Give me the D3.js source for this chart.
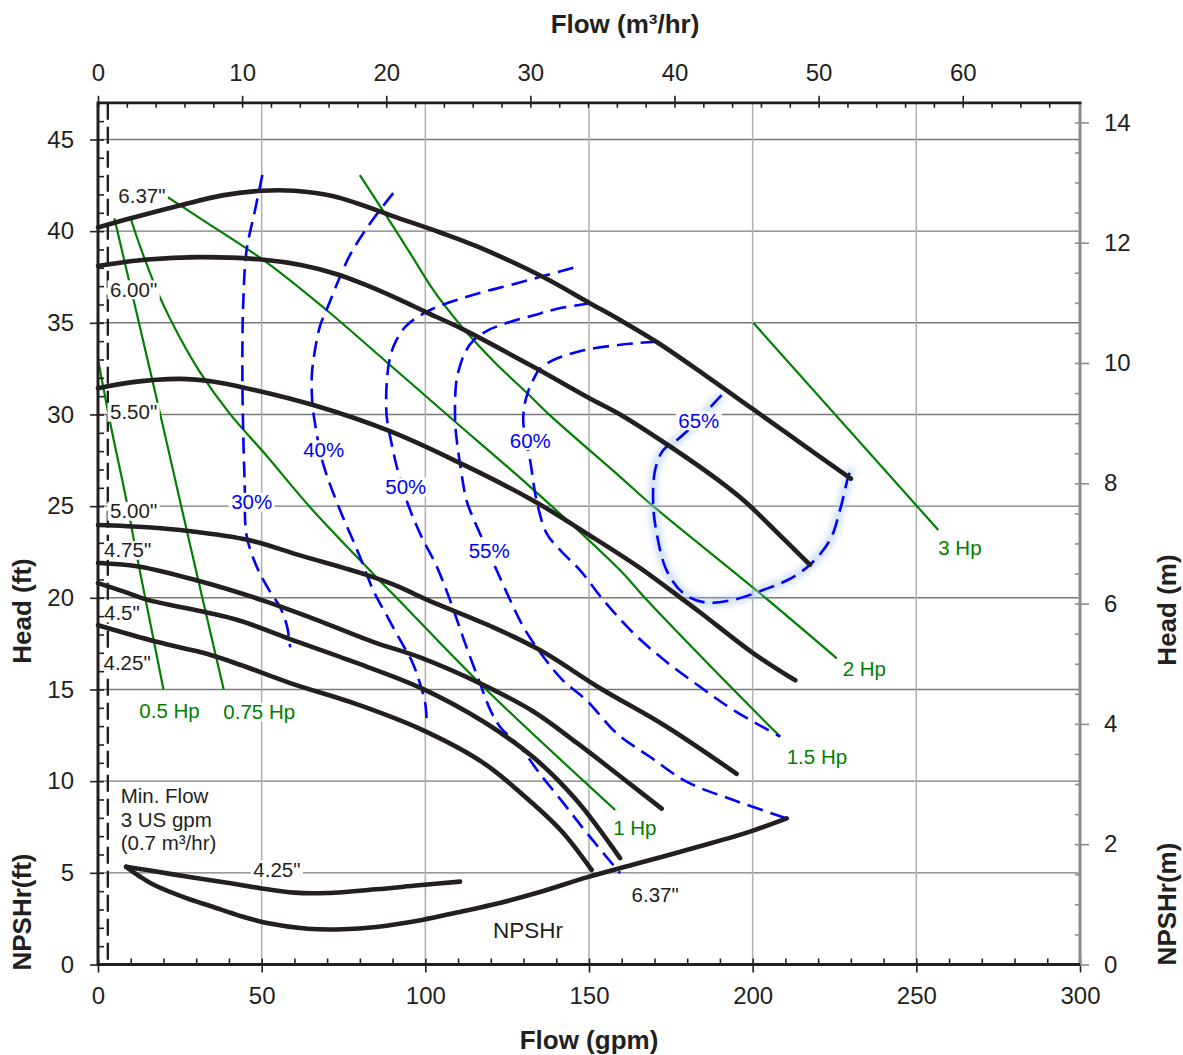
<!DOCTYPE html>
<html>
<head>
<meta charset="utf-8">
<script src="https://cdn.jsdelivr.net/npm/d3@7"></script>
<style>
  body { margin: 0; background: #fff; }
  svg text { font-family: "Liberation Sans", Arial, Helvetica, sans-serif; }
</style>
</head>
<body>
<svg id="chart" width="1183" height="1055"></svg>
<script>
  //============================================================
  // Data : flow in US gpm, head and NPSHr in ft
  //------------------------------------------------------------

  var head637 = [[0,40.2],[10,40.7],[25,41.4],[38,41.95],[50,42.2],[60,42.2],[72,41.9],[92,40.7],[105,39.9],[116,39.15],[136,37.5],[150,36.1],[160,35.1],[170.7,33.95],[185,32.2],[200,30.3],[215,28.4],[230,26.5]];
  var head600 = [[0,38.1],[15,38.45],[31,38.58],[50,38.45],[62,38.15],[73,37.65],[82,37.05],[92.3,36.25],[100,35.6],[112,34.6],[133,32.6],[150,30.9],[160,29.95],[174,28.35],[190,26.35],[198,25.2],[205,24.0],[217.5,21.8]];
  var head550 = [[0,31.43],[10,31.75],[25,31.94],[35,31.8],[45,31.45],[66,30.5],[89,29.1],[110,27.4],[133,25.3],[150,23.43],[165,21.7],[178,20.0],[184,19.2],[200,17.0],[213,15.5]];
  var head500 = [[0,23.97],[15,23.85],[27,23.66],[46,23.15],[62,22.3],[82,21.25],[92,20.6],[100.4,19.9],[120,18.45],[135,17.15],[153.4,15.07],[173.7,12.97],[195.1,10.4]];
  var head475 = [[0,21.9],[12.8,21.7],[31.2,20.9],[50.5,19.85],[63.8,19.0],[84,17.6],[98.4,16.75],[117.7,15.25],[133,13.8],[146.2,12.1],[160,10.2],[172.2,8.5]];
  var head450 = [[0,20.8],[7.7,20.35],[14.9,19.9],[33.2,19.2],[43.4,18.75],[58.7,17.75],[79,16.45],[98.4,15.1],[117.7,13.25],[133,11.3],[146,9.0],[159.5,5.8]];
  var head425 = [[0,18.5],[17.9,17.6],[33.2,16.95],[43.4,16.35],[58.7,15.35],[79,14.2],[98.4,12.85],[117.7,11.0],[133,8.75],[142,7.2],[150.8,5.16]];

  var eff30 = [[50.2,43.06],[47.8,41],[45.4,38.97],[44.4,36.25],[44.1,33],[44.3,29.5],[44.8,26.3],[45.4,23.4],[48.5,21.7],[52,20.5],[55.6,19.5],[57.8,18.4],[58.7,17.3]];
  var eff40 = [[90.2,42.07],[85.5,41],[81.1,39.9],[77,38.7],[73.9,37.5],[70.5,36],[67.8,34.8],[66,33.2],[65.3,32.06],[65.5,30.6],[66.3,29.5],[68.8,27.3],[73.9,24.8],[78,23.1],[81,21.8],[84.1,20.4],[88,19.1],[92.3,17.7],[96,16.5],[98.4,15.3],[100,14.2],[100.4,13.3]];
  var eff50 = [[145.2,38.0],[136,37.55],[126.9,37.1],[118,36.7],[110.6,36.3],[104,35.9],[98.4,35.4],[94,34.8],[91,34.0],[89.2,33.1],[88.2,31.7],[88.2,29.9],[89.7,28.4],[91.5,27],[94.3,25.3],[98.4,23.5],[103.5,21.7],[107.5,19.9],[112,17.6],[116.7,15.34],[119.8,13.9],[122.8,12.97],[128.9,11.88],[135,10.4],[142.2,8.8],[149.4,7.16],[159.5,4.98]];
  var eff55 = [[150.3,36.07],[140,35.75],[132.9,35.4],[125,35.0],[118.7,34.55],[114.5,34.0],[112.2,33.4],[110.5,32.6],[109.4,31.7],[109.1,29.7],[109.6,28.6],[110.6,27.3],[112.6,25.3],[114.5,24.4],[116.7,23.5],[119,22.6],[121.3,21.7],[125.9,19.88],[130,18.4],[136,16.8],[142,15.5],[149.3,14.4],[158.5,12.6],[168.6,11.33],[179.8,9.97],[194.1,8.97],[210.4,7.97]];
  var eff60 = [[170.7,33.97],[165,33.9],[159.5,33.8],[153,33.65],[148.3,33.5],[143.2,33.24],[139.1,32.97],[135,32.5],[133,31.9],[131.5,31.3],[130.4,30.6],[129.9,29.7],[130.5,28.8],[132,27.5],[134,25.3],[137.1,23.5],[141.2,22.6],[147.3,21.5],[154.4,19.88],[163.6,18.07],[173.7,16.5],[183.9,15.15],[194.1,13.88],[208.4,12.43]];
  var eff65 = [[190.5,31.06],[185,30.0],[180,29.1],[176.8,28.6],[172.7,28.06],[170.2,26.97],[169.6,25.16],[170.7,23.5],[173.7,21.5],[178.8,20.25],[185.4,19.75],[194.3,19.9],[204.3,20.5],[211,21.0],[217.5,21.8],[223.6,23.15],[226.7,24.8],[229.2,26.6],[230.2,27.06]];

  var hp05 = [[0,33],[4,29.3],[8.25,25.7],[12.3,21.9],[16,18.6],[20,15]];
  var hp075 = [[5,40.7],[10.8,36.3],[18.9,30.1],[27.6,23.3],[38.4,15]];
  var hp1 = [[9.8,40.8],[13,39.1],[18.9,36.4],[25,34.2],[31.2,32.3],[40,30.1],[51.5,27.75],[65,24.9],[84.1,21.3],[92.3,19.8],[117.7,15.15],[158,8.43]];
  var hp15 = [[20,42.0],[31.2,40.7],[51.5,38.3],[69.8,35.7],[89.2,32.7],[108.5,29.7],[133,25.9],[159.5,21.5],[167.6,19.9],[194.1,15],[208.4,12.43]];
  var hp2 = [[80,43.06],[88.2,40.8],[95,38.9],[102.4,36.8],[110.6,34.9],[114.7,34.06],[122,32.7],[130.9,31.2],[138.1,29.95],[159.5,26.6],[169.6,25.0],[202.2,20.25],[225.7,16.7]];
  var hp3 = [[200.2,35.0],[256.7,23.7]];

  var npsh425 = [[8.6,5.33],[15,5.15],[27,4.8],[40,4.45],[50,4.15],[60,3.92],[70,3.9],[85,4.1],[98,4.32],[110.6,4.52]];
  var npsh637 = [[8.6,5.33],[12.8,4.8],[17,4.35],[27,3.62],[34.5,3.18],[44,2.62],[52,2.25],[64,1.95],[75,1.92],[85,2.05],[99,2.43],[110,2.85],[122.4,3.34],[135,3.95],[149.3,4.75],[163.6,5.45],[183.9,6.45],[199.2,7.25],[210.4,7.97]];

  var minFlowGpm = 3;
  var gpmPerM3h = 4.4029, ftPerM = 3.28084;

  var gpmTicks = d3.range(0, 301, 50);
  var ftTicks = d3.range(0, 46, 5);
  var m3hTicks = d3.range(0, 61, 10);
  var mTicks = d3.range(0, 15, 2);

  //============================================================
  // Setup
  //------------------------------------------------------------

  var ink = '#231f20', green = '#008000', blue = '#0000ff',
    font = '"Liberation Sans", Arial, Helvetica, sans-serif';

  var svg = d3.select('#chart');
  var x = d3.scaleLinear().domain([0, 300]).range([98, 1080]);
  var y = d3.scaleLinear().domain([0, 47]).range([964.5, 102.8]);
  var xTop = d3.scaleLinear().domain([0, 300 / gpmPerM3h]).range(x.range());
  var yRight = d3.scaleLinear().domain([0, 47 / ftPerM]).range(y.range());

  var smooth = d3.line()
    .x(function(d) { return x(d[0]); })
    .y(function(d) { return y(d[1]); })
    .curve(d3.curveCatmullRom.alpha(0.5));

  var defs = svg.append('defs');
  defs.append('filter').attr('id', 'glow')
    .attr('x', '-20%').attr('y', '-20%').attr('width', '140%').attr('height', '140%')
    .append('feGaussianBlur').attr('stdDeviation', 3);

  // grid
  var grid = svg.append('g');
  grid.selectAll('.h').data(ftTicks.filter(function(v) { return v > 0; })).enter().append('line')
    .attr('x1', x(0)).attr('x2', x(300))
    .attr('y1', function(d) { return y(d); }).attr('y2', function(d) { return y(d); })
    .attr('stroke', '#7a7a7a').attr('stroke-width', 1.4);
  grid.selectAll('.v').data(gpmTicks.filter(function(v) { return v > 0 && v < 300; })).enter().append('line')
    .attr('y1', y(0)).attr('y2', y(47))
    .attr('x1', function(d) { return x(d); }).attr('x2', function(d) { return x(d); })
    .attr('stroke', '#b0b0b0').attr('stroke-width', 1.5);

  // minimum flow
  svg.append('line')
    .attr('x1', x(minFlowGpm)).attr('x2', x(minFlowGpm))
    .attr('y1', y(47)).attr('y2', y(0))
    .attr('stroke', ink).attr('stroke-width', 2.4).attr('stroke-dasharray', '17,7');

  // horsepower
  svg.append('g').selectAll('path').data([hp05, hp075, hp1, hp15, hp2, hp3]).enter().append('path')
    .attr('d', smooth).attr('fill', 'none').attr('stroke', green).attr('stroke-width', 2.2);

  // efficiency
  svg.append('path').attr('d', smooth(eff65)).attr('fill', 'none')
    .attr('stroke', '#a9c8ee').attr('stroke-width', 9).attr('opacity', 0.55)
    .attr('filter', 'url(#glow)');
  svg.append('g').selectAll('path').data([eff30, eff40, eff50, eff55, eff60, eff65]).enter().append('path')
    .attr('d', smooth).attr('fill', 'none').attr('stroke', blue)
    .attr('stroke-width', 2.6).attr('stroke-dasharray', '16,8');

  // head and NPSHr
  svg.append('g').selectAll('path')
    .data([head637, head600, head550, head500, head475, head450, head425, npsh425, npsh637]).enter().append('path')
    .attr('d', smooth).attr('fill', 'none').attr('stroke', ink)
    .attr('stroke-width', 4.6).attr('stroke-linecap', 'round').attr('stroke-linejoin', 'round');

  //============================================================
  // Labels
  //------------------------------------------------------------

  var labels = svg.append('g');

  function label(str, gx, fy, color, anchor, boxed, size) {
    size = size || 20.5;
    var t = labels.append('text')
      .attr('x', x(gx)).attr('y', y(fy))
      .attr('fill', color).attr('font-size', size)
      .attr('text-anchor', anchor || 'start')
      .text(str);
    if (boxed) {
      var b = t.node().getBBox();
      labels.insert('rect', function() { return t.node(); })
        .attr('x', b.x - 2.5).attr('width', b.width + 5)
        .attr('y', y(fy) - size * 0.8).attr('height', size * 0.92)
        .attr('fill', '#fff');
    }
    return t;
  }

  label('6.37"', 6.2, 41.55, ink, 'start', true);
  label('6.00"', 3.67, 36.42, ink, 'start', true);
  label('5.50"', 3.67, 29.74, ink, 'start', true);
  label('5.00"', 3.67, 24.34, ink, 'start', true);
  label('4.75"', 1.83, 22.21, ink, 'start', true);
  label('4.5"', 1.83, 18.79, ink, 'start', true);
  label('4.25"', 1.68, 16.06, ink, 'start', true);

  label('30%', 46.96, 24.83, blue, 'middle', true);
  label('40%', 68.95, 27.7, blue, 'middle', true);
  label('50%', 94.03, 25.66, blue, 'middle', true);
  label('55%', 119.5, 22.16, blue, 'middle', true);
  label('60%', 132.07, 28.19, blue, 'middle', true);
  label('65%', 183.55, 29.28, blue, 'middle', true);

  label('0.5 Hp', 12.62, 13.45, green, 'start', true);
  label('0.75 Hp', 38.28, 13.39, green, 'start', true);
  label('1 Hp', 157.4, 7.06, green, 'start', true);
  label('1.5 Hp', 210.4, 10.94, green, 'start', true);
  label('2 Hp', 227.5, 15.74, green, 'start', true);
  label('3 Hp', 256.7, 22.34, green, 'start', true);

  label('Min. Flow', 6.93, 8.83, ink, 'start', false);
  label('3 US gpm', 6.93, 7.52, ink, 'start', false);
  label('(0.7 m³/hr)', 6.93, 6.25, ink, 'start', false);

  label('4.25"', 47.45, 4.79, ink, 'start', true);
  label('6.37"', 163.0, 3.43, ink, 'start', false);
  label('NPSHr', 120.7, 1.43, ink, 'start', false, 22.5);

  //============================================================
  // Axes
  //------------------------------------------------------------

  function styleAxis(g, color) {
    g.select('.domain').remove();
    g.attr('font-size', 24).attr('font-family', font).attr('color', color);
    g.selectAll('line').attr('stroke-width', 1.6);
    g.selectAll('text').attr('fill', ink);
  }
  function blank() { return ''; }

  svg.append('g').attr('transform', 'translate(0,' + y(0) + ')')
    .call(d3.axisBottom(x).tickValues(gpmTicks).tickSizeInner(8).tickSizeOuter(0).tickPadding(14.5))
    .call(styleAxis, ink);
  svg.append('g').attr('transform', 'translate(0,' + y(0) + ')')
    .call(d3.axisBottom(x).tickValues(d3.range(0, 301, 10)).tickSize(-6).tickFormat(blank))
    .call(styleAxis, ink);

  svg.append('g').attr('transform', 'translate(' + x(0) + ',0)')
    .call(d3.axisLeft(y).tickValues(ftTicks).tickSizeInner(8).tickSizeOuter(0).tickPadding(16))
    .call(styleAxis, ink);
  svg.append('g').attr('transform', 'translate(' + x(0) + ',0)')
    .call(d3.axisLeft(y).tickValues(d3.range(0, 47, 1)).tickSize(-6).tickFormat(blank))
    .call(styleAxis, ink);

  svg.append('g').attr('transform', 'translate(0,' + y(47) + ')')
    .call(d3.axisTop(xTop).tickValues(m3hTicks).tickSizeInner(7).tickSizeOuter(0).tickPadding(15))
    .call(styleAxis, ink);
  svg.append('g').attr('transform', 'translate(0,' + y(47) + ')')
    .call(d3.axisTop(xTop).tickValues(d3.range(0, 68, 2)).tickSize(-5).tickFormat(blank))
    .call(styleAxis, ink);

  svg.append('g').attr('transform', 'translate(' + x(300) + ',0)')
    .call(d3.axisRight(yRight).tickValues(mTicks).tickSizeInner(9).tickSizeOuter(0).tickPadding(15))
    .call(styleAxis, '#8c8c8c');
  svg.append('g').attr('transform', 'translate(' + x(300) + ',0)')
    .call(d3.axisRight(yRight).tickValues(d3.range(0, 14.4, 0.5)).tickSize(-5).tickFormat(blank))
    .call(styleAxis, '#8c8c8c');

  // frame
  svg.append('line').attr('x1', x(300)).attr('x2', x(300)).attr('y1', y(47)).attr('y2', y(0))
    .attr('stroke', '#8c8c8c').attr('stroke-width', 3);
  svg.append('line').attr('x1', x(0)).attr('x2', x(300) + 1.5).attr('y1', y(47)).attr('y2', y(47))
    .attr('stroke', ink).attr('stroke-width', 2.8);
  svg.append('line').attr('x1', x(0)).attr('x2', x(300)).attr('y1', y(0)).attr('y2', y(0))
    .attr('stroke', ink).attr('stroke-width', 2.8);
  svg.append('line').attr('x1', x(0)).attr('x2', x(0)).attr('y1', y(47) - 1.4).attr('y2', y(0) + 1.4)
    .attr('stroke', ink).attr('stroke-width', 3);

  // axis titles
  function title(str, tx, ty, rotate) {
    svg.append('text')
      .attr('transform', 'translate(' + tx + ',' + ty + ')' + (rotate ? ' rotate(-90)' : ''))
      .attr('text-anchor', 'middle').attr('font-size', 26).attr('font-weight', 'bold')
      .attr('fill', ink).text(str);
  }
  title('Flow (m³/hr)', 625, 33, false);
  title('Flow (gpm)', 589, 1049, false);
  title('Head (ft)', 31, 611, true);
  title('NPSHr(ft)', 31, 912, true);
  title('Head (m)', 1176, 610, true);
  title('NPSHr(m)', 1176, 904, true);
</script>
</body>
</html>
